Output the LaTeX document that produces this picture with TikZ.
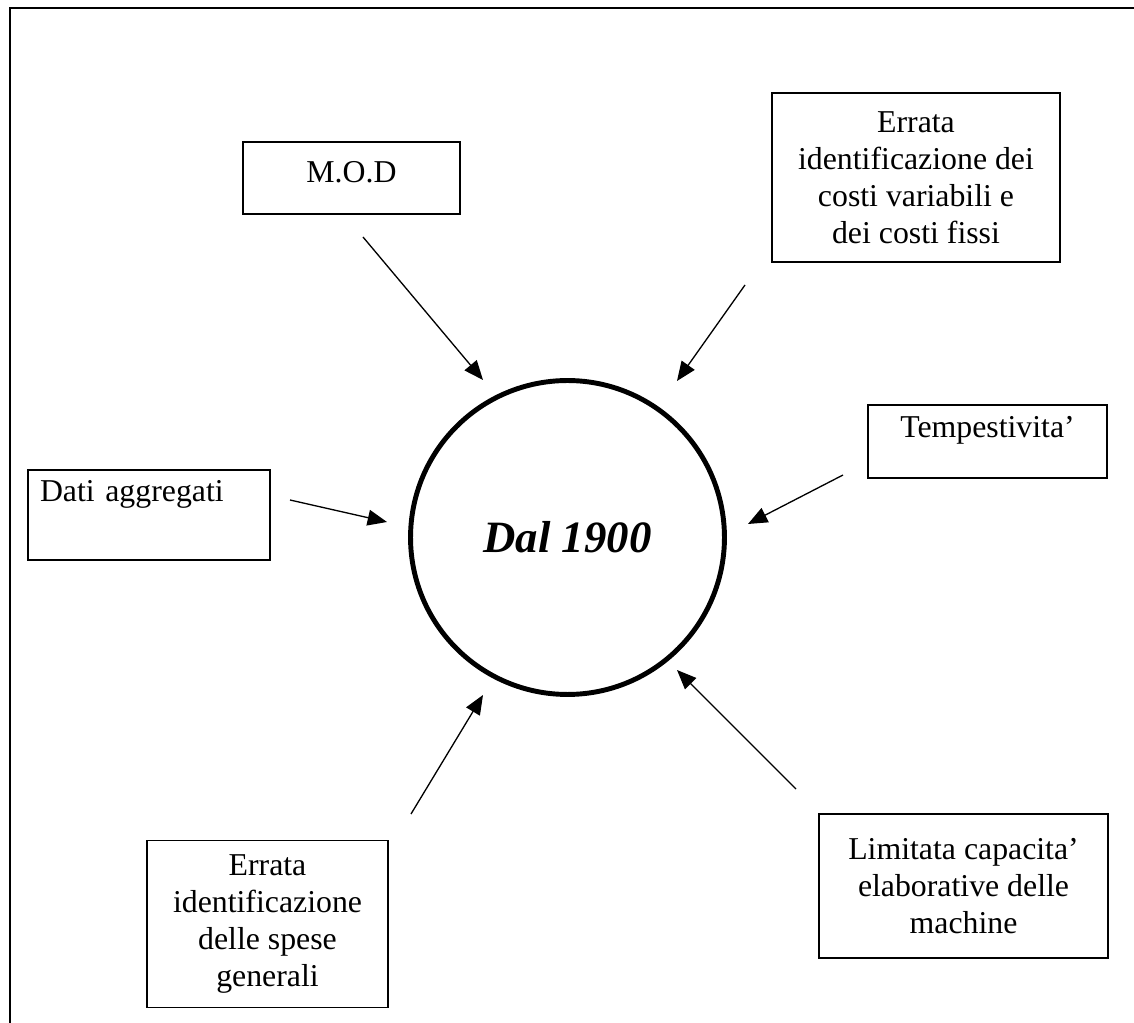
\documentclass[tikz,border=0pt]{standalone}
\usepackage{fontspec}
\setmainfont{Liberation Serif}
\usetikzlibrary{arrows.meta,shapes.geometric}

\begin{document}
\begin{tikzpicture}[x=0.02cm, y=-0.02cm,
  every node/.style={font=\fontsize{18.1}{21}\selectfont},
  box/.style={draw, line width=0.8pt, align=center, inner sep=0pt},
  arr/.style={-{Triangle[length=11pt,width=9pt]}, line width=0.75pt}]
  \useasboundingbox (0,0) rectangle (1134,1023);

  % page frame
  \draw[line width=1.1pt] (10,1023) -- (10,8) -- (1134,8);

  \node[circle, draw, line width=2.8pt, minimum size=6.28cm,
    font=\fontsize{25.5}{30}\selectfont\bfseries\itshape] (core) at (567.5,537.5) {Dal 1900};

  \node[box, minimum width=4.34cm, minimum height=1.44cm,
    text height=22.7pt, text depth=18.1pt] (mod) at (351.5,178) {M.O.D};
  \node[box, minimum width=5.76cm, minimum height=3.38cm] (costi) at (916,177.5)
    {Errata\\identificazione dei\\costi variabili e\\dei costi fissi};
  \node[box, minimum width=4.78cm, minimum height=1.46cm,
    text height=18.7pt, text depth=22.7pt] (temp) at (987.5,441.5) {Tempestivita'};
  \node[box, minimum width=4.84cm, minimum height=1.8cm, inner xsep=0.24cm,
    text width=4.36cm, align=left, text height=18pt, text depth=33pt] (dati) at (149,515) {Dati aggregati};
  \node[box, minimum width=4.82cm, minimum height=3.34cm] (spese) at (267.5,924)
    {Errata\\identificazione\\delle spese\\generali};
  \node[box, minimum width=5.78cm, minimum height=2.88cm] (limit) at (963.5,886)
    {Limitata capacita'\\elaborative delle\\machine};

  % arrow ends
  \coordinate (mod-t) at (363,237);   \coordinate (mod-h) at (483,380);
  \coordinate (costi-t) at (745,285); \coordinate (costi-h) at (677,381);
  \coordinate (temp-t) at (843,475);  \coordinate (temp-h) at (748,524);
  \coordinate (dati-t) at (290,500);  \coordinate (dati-h) at (387,522);
  \coordinate (spese-t) at (411,814); \coordinate (spese-h) at (483,695);
  \coordinate (limit-t) at (796,789); \coordinate (limit-h) at (677,670);

  \draw[arr] (mod-t) -- (mod-h);
  \draw[arr] (costi-t) -- (costi-h);
  \draw[arr] (temp-t) -- (temp-h);
  \draw[arr] (dati-t) -- (dati-h);
  \draw[arr] (spese-t) -- (spese-h);
  \draw[arr] (limit-t) -- (limit-h);
\end{tikzpicture}
\end{document}
